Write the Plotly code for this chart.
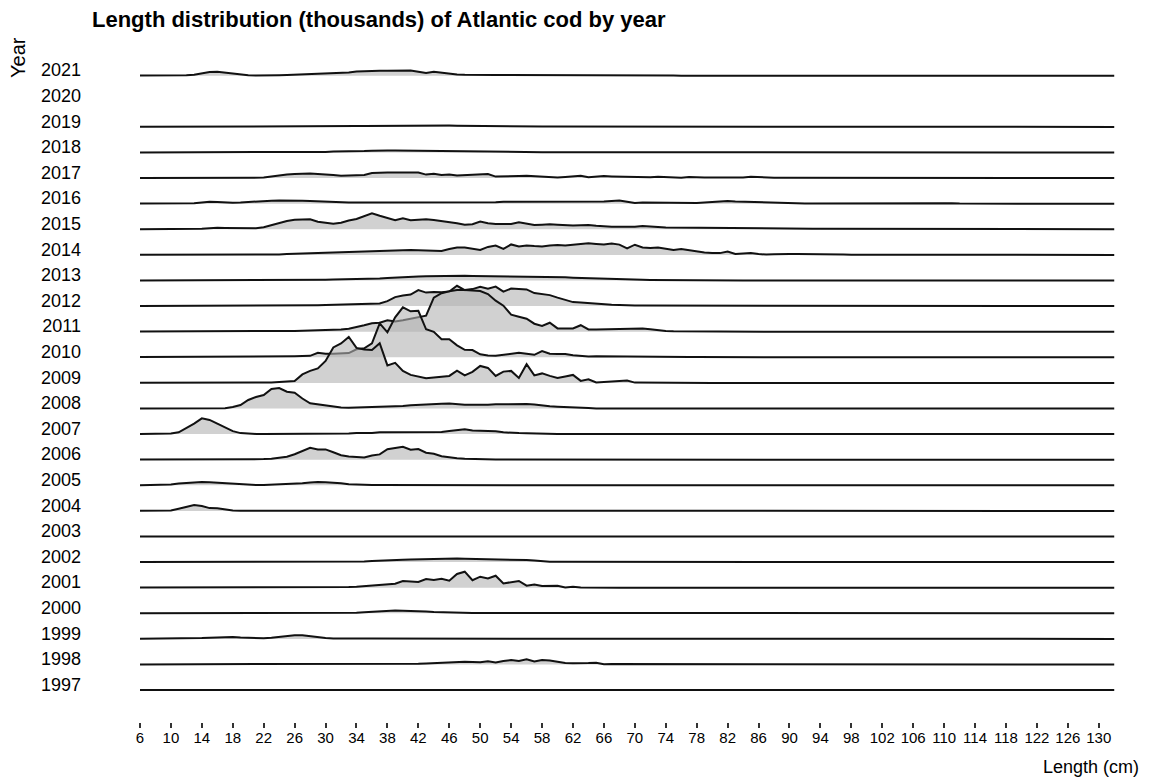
import plotly.graph_objects as go

# Length classes (cm) and survey years
lengths = list(range(6, 133))          # 6 ... 132 cm, 127 classes
years = list(range(1997, 2022))
x_tick_vals = list(range(6, 131, 4))

Z = 0
# Catch at length (thousands) per year, one value per 1-cm class from 6 to 132 cm
len_2021 = [0.1, 0.1, 0.1, 0.1, 0.1, 0.1, 0.4, 0.9, 2.3, 3.6,
            4.0, 3.2, 2.0, 0.9, 0.5, 0.2, 0.1, 0.3, 0.5, 0.7,
            1.0, 1.3, 1.6, 1.9, 2.1, 2.4, 2.7, 3.3, 4.2, 4.7,
            4.8, 5.0, 5.0, 5.0, 5.1, 5.3, 4.0, 2.8, 4.0, 3.2,
            1.8, 1.3, 1.0, 0.8, 0.7, 0.8, 0.8, 0.8, 0.8, 0.8,
            0.8, 0.4, 0.4, 0.4, 0.4, 0.3, 0.3, 0.3, 0.3, 0.3,
            0.3, 0.3, 0.3, 0.3, 0.3, 0.1, 0.1, 0.1, 0.1, 0.1,
            Z, Z, Z, Z, Z, Z, Z, Z, Z, Z,
            Z, Z, Z, Z, Z, Z, Z, Z, Z, Z,
            Z, Z, Z, Z, Z, Z, Z, Z, Z, Z,
            Z, Z, Z, Z, Z, Z, Z, Z, Z, Z,
            Z, Z, Z, Z, Z, Z, Z, Z, Z, Z,
            Z, Z, Z, Z, Z, Z, Z]
len_2020 = None  # no survey
len_2019 = [0.1, 0.1, 0.1, 0.1, 0.1, 0.1, 0.1, 0.1, 0.1, 0.1,
            0.1, 0.1, 0.1, 0.1, 0.1, 0.2, 0.2, 0.2, 0.3, 0.3,
            0.4, 0.4, 0.4, 0.5, 0.5, 0.6, 0.6, 0.7, 0.8, 0.9,
            1.0, 1.0, 1.1, 1.1, 1.2, 1.2, 1.2, 1.2, 1.3, 1.3,
            1.3, 1.2, 1.2, 1.1, 1.0, 1.0, 0.9, 0.8, 0.7, 0.6,
            0.5, 0.5, 0.5, 0.4, 0.4, 0.4, 0.4, 0.3, 0.3, 0.3,
            0.3, 0.3, 0.3, 0.3, 0.3, 0.3, 0.2, 0.2, 0.2, 0.2,
            0.2, 0.2, 0.1, 0.1, 0.1, 0.1, 0.1, 0.1, 0.1, 0.1,
            Z, Z, Z, Z, Z, Z, Z, Z, Z, Z,
            Z, Z, Z, Z, Z, Z, Z, Z, Z, Z,
            Z, Z, Z, Z, Z, Z, Z, Z, Z, Z,
            Z, Z, Z, Z, Z, Z, Z, Z, Z, Z,
            Z, Z, Z, Z, Z, Z, Z]
len_2018 = [0.1, 0.1, 0.1, 0.1, 0.1, 0.1, 0.1, 0.1, 0.1, 0.1,
            0.1, 0.1, 0.1, 0.1, 0.1, 0.3, 0.3, 0.3, 0.3, 0.3,
            0.6, 0.6, 0.6, 0.6, 0.6, 1.0, 1.0, 1.0, 1.3, 1.5,
            1.8, 2.2, 2.0, 1.9, 1.8, 1.8, 1.7, 1.5, 1.3, 1.1,
            1.0, 0.9, 0.8, 0.6, 0.5, 0.3, 0.3, 0.3, 0.3, 0.3,
            0.3, 0.3, 0.3, 0.3, 0.3, 0.3, 0.3, 0.3, 0.3, 0.3,
            0.3, 0.3, 0.3, 0.3, 0.3, 0.6, 0.6, 0.6, 0.6, 0.3,
            0.3, 0.3, 0.3, 0.3, 0.3, 0.1, 0.1, 0.1, 0.1, 0.1,
            Z, Z, Z, Z, Z, Z, Z, Z, Z, Z,
            Z, Z, Z, Z, Z, Z, Z, Z, Z, Z,
            Z, Z, Z, Z, Z, Z, Z, Z, Z, Z,
            Z, Z, Z, Z, Z, Z, Z, Z, Z, Z,
            Z, Z, Z, Z, Z, Z, Z]
len_2017 = [0.1, 0.1, 0.1, 0.1, 0.1, 0.1, 0.1, 0.1, 0.1, 0.1,
            0.1, 0.1, 0.1, 0.1, 0.1, 0.1, 0.5, 1.5, 2.8, 3.6,
            4.2, 4.7, 4.5, 4.0, 3.8, 3.0, 2.3, 2.5, 2.8, 3.2,
            5.0, 5.5, 5.5, 5.6, 5.6, 5.7, 5.6, 3.5, 4.3, 3.2,
            3.5, 2.5, 3.0, 3.8, 4.3, 4.1, 1.5, 1.5, 1.8, 2.0,
            2.3, 1.8, 1.3, 1.0, 0.7, 1.2, 2.0, 2.3, 0.8, 1.7,
            2.0, 1.7, 1.5, 1.3, 0.5, 0.3, 0.8, 1.3, 0.8, 0.3,
            0.3, 1.0, 0.5, 0.5, 0.5, 0.5, 0.5, 0.5, 0.5, 1.3,
            0.8, 0.4, 0.4, 0.4, 0.4, 0.1, 0.1, 0.1, 0.1, 0.1,
            Z, Z, Z, Z, Z, Z, Z, Z, Z, Z,
            Z, Z, Z, Z, Z, Z, Z, Z, Z, Z,
            Z, Z, Z, Z, Z, Z, Z, Z, Z, Z,
            Z, Z, Z, Z, Z, Z, Z]
len_2016 = [0.1, 0.1, 0.1, 0.1, 0.1, 0.1, 0.1, 0.5, 1.2, 2.0,
            1.7, 1.2, 1.0, 1.2, 1.8, 2.3, 2.8, 3.0, 3.2, 3.3,
            3.2, 3.0, 2.6, 2.2, 1.8, 1.5, 1.3, 1.2, 1.2, 1.2,
            1.2, 1.2, 1.2, 1.0, 1.0, 1.0, 1.0, 1.0, 1.0, 1.0,
            1.5, 1.5, 1.5, 1.5, 1.5, 1.5, 1.5, 2.0, 2.0, 1.8,
            1.8, 1.8, 1.8, 1.8, 1.8, 1.8, 1.8, 1.8, 1.8, 1.8,
            2.2, 2.8, 3.3, 2.0, 0.8, 1.3, 1.2, 1.5, 0.8, 0.8,
            0.8, 0.8, 0.8, 1.3, 2.0, 2.5, 2.7, 2.3, 2.0, 2.0,
            1.8, 1.5, 1.3, 1.0, 0.6, 0.3, 0.3, 0.3, 0.3, 0.3,
            0.3, 0.3, 0.3, 0.3, 0.3, 0.3, 0.3, 0.3, 0.3, 0.3,
            1.0, 1.0, 1.0, 1.0, 1.0, 0.5, 0.1, 0.1, 0.1, 0.1,
            Z, Z, Z, Z, Z, Z, Z, Z, Z, Z,
            Z, Z, Z, Z, Z, Z, Z]
len_2015 = [0.1, 0.1, 0.1, 0.1, 0.1, 0.1, 0.1, 0.1, 0.5, 1.0,
            1.6, 1.4, 1.2, 1.0, 1.0, 1.0, 2.0, 4.0, 6.5, 8.3,
            9.5, 10.0, 10.0, 7.5, 6.8, 5.5, 6.5, 8.8, 10.3, 13.0,
            16.0, 13.5, 11.0, 9.0, 11.0, 9.0, 9.5, 10.0, 9.2, 8.3,
            7.5, 6.0, 4.5, 5.0, 7.7, 6.0, 5.2, 5.0, 5.3, 7.0,
            5.5, 4.3, 4.6, 5.0, 4.5, 4.0, 3.7, 4.0, 4.3, 3.5,
            2.7, 2.5, 2.5, 2.2, 2.5, 3.2, 3.0, 2.2, 1.8, 1.7,
            1.7, 1.7, 1.7, 1.7, 1.7, 1.2, 1.2, 1.2, 1.2, 1.2,
            1.2, 1.2, 0.6, 0.6, 0.6, 0.6, 0.6, 0.6, 0.6, 0.6,
            0.6, 0.6, 0.2, 0.2, 0.2, 0.1, 0.1, 0.1, 0.1, 0.1,
            Z, Z, Z, Z, Z, Z, Z, Z, Z, Z,
            Z, Z, Z, Z, Z, Z, Z, Z, Z, Z,
            Z, Z, Z, Z, Z, Z, Z]
len_2014 = [0.1, 0.1, 0.1, 0.1, 0.1, 0.1, 0.1, 0.1, 0.1, 0.1,
            0.1, 0.1, 0.1, 0.1, 0.1, 0.5, 0.5, 0.5, 0.5, 1.0,
            1.2, 1.4, 1.6, 1.8, 2.0, 2.2, 2.5, 2.8, 3.0, 3.3,
            3.7, 4.0, 4.2, 4.5, 4.7, 5.0, 4.8, 4.5, 4.2, 4.0,
            6.0, 7.5, 7.5, 6.0, 5.0, 8.0, 9.3, 6.0, 10.5, 8.5,
            9.3, 8.8, 8.5, 9.5, 10.0, 9.3, 10.0, 11.0, 11.7, 11.0,
            10.3, 11.5, 10.3, 6.5, 10.2, 7.5, 7.0, 7.5, 6.5, 5.0,
            5.8, 4.5, 3.0, 2.3, 2.0, 1.8, 3.3, 1.0, 1.5, 2.0,
            1.0, 0.3, 0.6, 1.0, 1.0, 1.0, 1.0, 1.0, 1.0, 1.0,
            0.7, 0.4, 0.1, 0.1, 0.1, 0.1, 0.1, 0.1, 0.1, 0.1,
            Z, Z, Z, Z, Z, Z, Z, Z, Z, Z,
            Z, Z, Z, Z, Z, Z, Z, Z, Z, Z,
            Z, Z, Z, Z, Z, Z, Z]
len_2013 = [0.1, 0.1, 0.1, 0.1, 0.1, 0.1, 0.1, 0.1, 0.1, 0.1,
            0.1, 0.1, 0.1, 0.1, 0.1, 0.2, 0.2, 0.2, 0.3, 0.3,
            0.4, 0.5, 0.6, 0.7, 0.8, 0.9, 1.0, 1.2, 1.3, 1.5,
            1.8, 2.1, 2.5, 3.0, 3.5, 3.8, 4.0, 4.2, 4.4, 4.5,
            4.5, 4.6, 4.7, 4.6, 4.5, 4.5, 4.5, 4.5, 4.5, 4.5,
            4.4, 4.2, 4.0, 3.8, 3.5, 3.2, 2.8, 2.5, 2.2, 2.0,
            1.8, 1.5, 1.3, 1.0, 0.8, 0.7, 0.6, 0.5, 0.4, 0.3,
            0.3, 0.3, 0.2, 0.2, 0.2, 0.1, 0.1, 0.1, 0.1, 0.1,
            Z, Z, Z, Z, Z, Z, Z, Z, Z, Z,
            Z, Z, Z, Z, Z, Z, Z, Z, Z, Z,
            Z, Z, Z, Z, Z, Z, Z, Z, Z, Z,
            Z, Z, Z, Z, Z, Z, Z, Z, Z, Z,
            Z, Z, Z, Z, Z, Z, Z]
len_2012 = [0.1, 0.1, 0.1, 0.1, 0.1, 0.1, 0.1, 0.1, 0.1, 0.1,
            0.1, 0.1, 0.1, 0.1, 0.1, 0.3, 0.3, 0.3, 0.3, 0.5,
            0.5, 0.6, 0.7, 0.8, 1.0, 1.2, 1.4, 1.6, 1.8, 2.2,
            2.5, 2.7, 5.0, 9.0, 10.7, 11.5, 16.0, 13.5, 14.0, 13.8,
            14.5, 20.3, 16.0, 17.0, 19.3, 17.5, 19.5, 14.5, 17.5, 17.0,
            16.7, 13.0, 12.0, 11.0, 8.5, 6.0, 4.0, 3.5, 2.8, 2.3,
            1.8, 1.3, 1.0, 0.6, 0.6, 0.6, 0.6, 0.2, 0.2, 0.2,
            0.1, 0.1, 0.1, 0.1, 0.1, 0.1, 0.1, 0.1, 0.1, 0.1,
            Z, Z, Z, Z, Z, Z, Z, Z, Z, Z,
            Z, Z, Z, Z, Z, Z, Z, Z, Z, Z,
            Z, Z, Z, Z, Z, Z, Z, Z, Z, Z,
            Z, Z, Z, Z, Z, Z, Z, Z, Z, Z,
            Z, Z, Z, Z, Z, Z, Z]
len_2011 = [0.2, 0.2, 0.2, 0.2, 0.2, 0.2, 0.2, 0.2, 0.2, 0.2,
            0.2, 0.2, 0.2, 0.2, 0.2, 0.5, 0.5, 0.5, 0.5, 0.7,
            0.8, 1.0, 1.2, 1.4, 1.6, 2.0, 2.2, 3.0, 4.5, 6.5,
            8.5, 9.0, 11.5, 10.2, 11.5, 13.0, 14.5, 16.0, 34.0, 38.5,
            40.5, 41.7, 41.7, 41.0, 40.7, 37.7, 31.0, 26.0, 17.0, 15.0,
            13.0, 8.0, 5.7, 9.0, 3.3, 3.3, 3.3, 6.5, 2.3, 2.3,
            2.5, 2.6, 2.8, 3.0, 3.2, 3.3, 2.5, 1.5, 0.8, 0.5,
            0.4, 0.3, 0.3, 0.2, 0.2, 0.1, 0.1, 0.1, 0.1, 0.1,
            Z, Z, Z, Z, Z, Z, Z, Z, Z, Z,
            Z, Z, Z, Z, Z, Z, Z, Z, Z, Z,
            Z, Z, Z, Z, Z, Z, Z, Z, Z, Z,
            Z, Z, Z, Z, Z, Z, Z, Z, Z, Z,
            Z, Z, Z, Z, Z, Z, Z]
len_2010 = [0.3, 0.3, 0.3, 0.3, 0.3, 0.3, 0.3, 0.3, 0.3, 0.3,
            0.3, 0.3, 0.3, 0.3, 0.3, 0.4, 0.5, 0.8, 0.8, 0.9,
            1.0, 1.2, 1.5, 4.5, 3.5, 3.5, 3.8, 4.2, 8.0, 9.0,
            14.0, 34.0, 25.0, 40.0, 50.0, 46.0, 46.5, 28.0, 25.5, 18.0,
            18.0, 12.0, 7.5, 7.3, 3.0, 1.8, 1.5, 2.5, 3.5, 4.5,
            3.5, 2.5, 6.3, 3.5, 3.3, 3.3, 2.0, 1.2, 0.8, 1.0,
            1.0, 1.0, 1.0, 1.0, 1.0, 1.0, 1.0, 1.0, 1.0, 0.5,
            0.3, 0.3, 0.2, 0.2, 0.1, 0.1, 0.1, 0.1, 0.1, 0.1,
            Z, Z, Z, Z, Z, Z, Z, Z, Z, Z,
            Z, Z, Z, Z, Z, Z, Z, Z, Z, Z,
            Z, Z, Z, Z, Z, Z, Z, Z, Z, Z,
            Z, Z, Z, Z, Z, Z, Z, Z, Z, Z,
            Z, Z, Z, Z, Z, Z, Z]
len_2009 = [0.2, 0.2, 0.2, 0.2, 0.2, 0.2, 0.2, 0.2, 0.2, 0.2,
            0.2, 0.2, 0.2, 0.2, 0.2, 0.2, 0.2, 0.5, 1.0, 1.3,
            1.8, 8.5, 12.0, 14.5, 22.0, 35.5, 39.5, 46.0, 35.0, 33.5,
            33.0, 39.7, 17.5, 20.0, 12.0, 8.0, 6.0, 4.7, 5.5, 6.4,
            7.0, 12.3, 7.5, 11.0, 17.0, 15.0, 7.0, 11.3, 12.0, 5.0,
            18.7, 7.5, 9.5, 7.0, 5.0, 6.5, 8.0, 2.0, 3.7, 0.5,
            0.8, 1.2, 1.8, 2.3, 0.3, 0.2, 0.2, 0.1, 0.1, 0.1,
            Z, Z, Z, Z, Z, Z, Z, Z, Z, Z,
            Z, Z, Z, Z, Z, Z, Z, Z, Z, Z,
            Z, Z, Z, Z, Z, Z, Z, Z, Z, Z,
            Z, Z, Z, Z, Z, Z, Z, Z, Z, Z,
            Z, Z, Z, Z, Z, Z, Z, Z, Z, Z,
            Z, Z, Z, Z, Z, Z, Z]
len_2008 = [0.1, 0.1, 0.1, 0.1, 0.1, 0.1, 0.1, 0.1, 0.1, 0.1,
            0.1, 0.3, 1.5, 3.5, 8.5, 11.5, 13.5, 19.5, 20.5, 16.8,
            15.8, 10.0, 5.2, 4.0, 3.2, 1.8, 1.0, 0.8, 1.0, 1.2,
            1.4, 1.5, 1.7, 2.0, 2.5, 3.3, 3.8, 4.2, 4.5, 4.8,
            5.0, 4.2, 3.8, 3.8, 3.5, 3.8, 4.2, 4.3, 4.5, 4.6,
            4.5, 4.0, 3.0, 2.3, 1.8, 1.3, 1.0, 0.7, 0.4, 0.1,
            0.1, 0.1, 0.1, 0.1, 0.1, 0.1, 0.1, 0.1, 0.1, 0.1,
            Z, Z, Z, Z, Z, Z, Z, Z, Z, Z,
            Z, Z, Z, Z, Z, Z, Z, Z, Z, Z,
            Z, Z, Z, Z, Z, Z, Z, Z, Z, Z,
            Z, Z, Z, Z, Z, Z, Z, Z, Z, Z,
            Z, Z, Z, Z, Z, Z, Z, Z, Z, Z,
            Z, Z, Z, Z, Z, Z, Z]
len_2007 = [0.1, 0.1, 0.1, 0.1, 0.5, 1.8, 6.0, 10.5, 15.8, 14.2,
            10.5, 7.0, 3.0, 1.0, 0.3, 0.2, 0.2, 0.2, 0.2, 0.2,
            0.2, 0.2, 0.2, 0.5, 0.5, 0.5, 0.5, 0.5, 1.0, 1.0,
            1.0, 1.8, 1.8, 1.8, 1.8, 1.8, 2.0, 2.2, 2.4, 2.0,
            3.0, 3.8, 4.8, 3.5, 3.5, 3.4, 2.8, 1.8, 1.2, 1.0,
            0.8, 0.5, 0.1, 0.1, 0.1, 0.1, 0.1, 0.1, 0.1, 0.1,
            Z, Z, Z, Z, Z, Z, Z, Z, Z, Z,
            Z, Z, Z, Z, Z, Z, Z, Z, Z, Z,
            Z, Z, Z, Z, Z, Z, Z, Z, Z, Z,
            Z, Z, Z, Z, Z, Z, Z, Z, Z, Z,
            Z, Z, Z, Z, Z, Z, Z, Z, Z, Z,
            Z, Z, Z, Z, Z, Z, Z, Z, Z, Z,
            Z, Z, Z, Z, Z, Z, Z]
len_2006 = [0.1, 0.1, 0.1, 0.1, 0.1, 0.1, 0.1, 0.1, 0.1, 0.1,
            0.1, 0.1, 0.1, 0.1, 0.1, 0.3, 0.6, 1.0, 1.8, 3.0,
            5.5, 8.5, 12.0, 10.3, 10.3, 7.5, 4.5, 3.2, 2.5, 2.2,
            4.3, 5.3, 10.5, 12.0, 13.0, 10.0, 10.7, 7.0, 6.0, 3.5,
            2.2, 1.5, 1.0, 0.6, 0.3, 0.1, 0.1, 0.1, 0.1, 0.1,
            Z, Z, Z, Z, Z, Z, Z, Z, Z, Z,
            Z, Z, Z, Z, Z, Z, Z, Z, Z, Z,
            Z, Z, Z, Z, Z, Z, Z, Z, Z, Z,
            Z, Z, Z, Z, Z, Z, Z, Z, Z, Z,
            Z, Z, Z, Z, Z, Z, Z, Z, Z, Z,
            Z, Z, Z, Z, Z, Z, Z, Z, Z, Z,
            Z, Z, Z, Z, Z, Z, Z, Z, Z, Z,
            Z, Z, Z, Z, Z, Z, Z]
len_2005 = [0.1, 0.1, 0.1, 0.1, 0.8, 1.8, 2.5, 3.0, 3.2, 3.0,
            2.5, 1.8, 1.0, 0.5, 0.2, 0.2, 0.3, 0.5, 0.8, 1.0,
            1.3, 2.0, 2.8, 3.3, 3.0, 2.7, 2.0, 1.0, 0.5, 0.3,
            0.2, 0.2, 0.2, 0.2, 0.2, 0.2, 0.2, 0.2, 0.2, 0.2,
            0.2, 0.2, 0.2, 0.2, 0.2, 0.2, 0.2, 0.2, 0.2, 0.2,
            0.2, 0.2, 0.2, 0.2, 0.2, 0.1, 0.1, 0.1, 0.1, 0.1,
            Z, Z, Z, Z, Z, Z, Z, Z, Z, Z,
            Z, Z, Z, Z, Z, Z, Z, Z, Z, Z,
            Z, Z, Z, Z, Z, Z, Z, Z, Z, Z,
            Z, Z, Z, Z, Z, Z, Z, Z, Z, Z,
            Z, Z, Z, Z, Z, Z, Z, Z, Z, Z,
            Z, Z, Z, Z, Z, Z, Z, Z, Z, Z,
            Z, Z, Z, Z, Z, Z, Z]
len_2004 = [0.1, 0.1, 0.1, 0.1, 0.4, 2.2, 4.2, 5.9, 4.8, 2.8,
            2.6, 1.2, 0.4, 0.2, 0.2, 0.2, 0.2, 0.2, 0.2, 0.2,
            0.2, 0.2, 0.2, 0.2, 0.2, 0.6, 0.6, 0.6, 0.6, 0.6,
            0.6, 0.6, 0.6, 0.6, 0.6, 0.6, 0.6, 0.6, 0.6, 0.6,
            0.3, 0.3, 0.3, 0.3, 0.3, 0.3, 0.3, 0.3, 0.3, 0.3,
            0.1, 0.1, 0.1, 0.1, 0.1, 0.1, 0.1, 0.1, 0.1, 0.1,
            Z, Z, Z, Z, Z, Z, Z, Z, Z, Z,
            Z, Z, Z, Z, Z, Z, Z, Z, Z, Z,
            Z, Z, Z, Z, Z, Z, Z, Z, Z, Z,
            Z, Z, Z, Z, Z, Z, Z, Z, Z, Z,
            Z, Z, Z, Z, Z, Z, Z, Z, Z, Z,
            Z, Z, Z, Z, Z, Z, Z, Z, Z, Z,
            Z, Z, Z, Z, Z, Z, Z]
len_2003 = [0.1, 0.1, 0.1, 0.1, 0.1, 0.1, 0.1, 0.1, 0.1, 0.1,
            0.1, 0.1, 0.1, 0.1, 0.1, 0.1, 0.1, 0.1, 0.1, 0.1,
            0.1, 0.1, 0.1, 0.1, 0.1, 0.1, 0.1, 0.1, 0.1, 0.1,
            0.1, 0.1, 0.1, 0.1, 0.3, 0.3, 0.3, 0.3, 0.3, 0.3,
            0.3, 0.3, 0.3, 0.3, 0.3, 0.3, 0.3, 0.3, 0.3, 0.3,
            0.3, 0.3, 0.3, 0.3, 0.6, 0.6, 0.6, 0.6, 0.6, 0.6,
            0.6, 0.6, 0.6, 0.6, 0.3, 0.3, 0.3, 0.3, 0.3, 0.3,
            0.3, 0.3, 0.3, 0.3, 0.1, 0.1, 0.1, 0.1, 0.1, 0.1,
            Z, Z, Z, Z, Z, Z, Z, Z, Z, Z,
            Z, Z, Z, Z, Z, Z, Z, Z, Z, Z,
            Z, Z, Z, Z, Z, Z, Z, Z, Z, Z,
            Z, Z, Z, Z, Z, Z, Z, Z, Z, Z,
            Z, Z, Z, Z, Z, Z, Z]
len_2002 = [0.1, 0.1, 0.1, 0.1, 0.1, 0.1, 0.1, 0.1, 0.1, 0.1,
            0.1, 0.1, 0.1, 0.1, 0.1, 0.3, 0.3, 0.3, 0.3, 0.3,
            0.3, 0.3, 0.3, 0.3, 0.3, 0.6, 0.6, 0.6, 0.6, 0.6,
            1.0, 1.5, 1.8, 2.1, 2.3, 2.5, 2.7, 2.8, 3.2, 3.6,
            3.8, 3.6, 3.3, 3.2, 3.0, 2.9, 2.8, 2.7, 2.5, 2.3,
            2.1, 1.5, 0.8, 0.4, 0.3, 0.3, 0.3, 0.3, 0.3, 0.3,
            0.3, 0.3, 0.3, 0.3, 0.3, 0.1, 0.1, 0.1, 0.1, 0.1,
            Z, Z, Z, Z, Z, Z, Z, Z, Z, Z,
            Z, Z, Z, Z, Z, Z, Z, Z, Z, Z,
            Z, Z, Z, Z, Z, Z, Z, Z, Z, Z,
            Z, Z, Z, Z, Z, Z, Z, Z, Z, Z,
            Z, Z, Z, Z, Z, Z, Z, Z, Z, Z,
            Z, Z, Z, Z, Z, Z, Z]
len_2001 = [0.1, 0.1, 0.1, 0.1, 0.1, 0.1, 0.1, 0.1, 0.1, 0.1,
            0.1, 0.1, 0.1, 0.1, 0.1, 0.1, 0.1, 0.1, 0.1, 0.1,
            0.1, 0.1, 0.1, 0.1, 0.1, 0.2, 0.4, 0.7, 1.0, 1.6,
            2.2, 2.5, 3.2, 4.0, 6.7, 6.0, 5.8, 8.7, 7.8, 9.0,
            7.0, 13.7, 16.0, 7.5, 11.0, 9.3, 12.0, 4.3, 5.5, 6.7,
            2.0, 3.3, 1.7, 1.8, 2.0, 0.2, 1.0, 0.3, 0.1, 0.1,
            Z, Z, Z, Z, Z, Z, Z, Z, Z, Z,
            Z, Z, Z, Z, Z, Z, Z, Z, Z, Z,
            Z, Z, Z, Z, Z, Z, Z, Z, Z, Z,
            Z, Z, Z, Z, Z, Z, Z, Z, Z, Z,
            Z, Z, Z, Z, Z, Z, Z, Z, Z, Z,
            Z, Z, Z, Z, Z, Z, Z, Z, Z, Z,
            Z, Z, Z, Z, Z, Z, Z]
len_2000 = [0.1, 0.1, 0.1, 0.1, 0.1, 0.1, 0.1, 0.1, 0.1, 0.1,
            0.1, 0.1, 0.1, 0.1, 0.1, 0.3, 0.3, 0.3, 0.3, 0.3,
            0.3, 0.3, 0.3, 0.3, 0.3, 0.6, 0.6, 0.6, 0.6, 1.0,
            1.5, 2.0, 2.5, 2.7, 2.6, 2.5, 2.3, 1.8, 1.3, 1.0,
            0.8, 0.4, 0.4, 0.4, 0.4, 0.4, 0.4, 0.4, 0.4, 0.4,
            0.3, 0.3, 0.3, 0.3, 0.3, 0.3, 0.3, 0.3, 0.3, 0.3,
            0.3, 0.3, 0.3, 0.3, 0.3, 0.5, 0.5, 0.5, 0.5, 0.5,
            0.5, 0.5, 0.5, 0.5, 0.5, 0.1, 0.1, 0.1, 0.1, 0.1,
            Z, Z, Z, Z, Z, Z, Z, Z, Z, Z,
            Z, Z, Z, Z, Z, Z, Z, Z, Z, Z,
            Z, Z, Z, Z, Z, Z, Z, Z, Z, Z,
            Z, Z, Z, Z, Z, Z, Z, Z, Z, Z,
            Z, Z, Z, Z, Z, Z, Z]
len_1999 = [0.1, 0.1, 0.1, 0.1, 0.1, 0.1, 0.1, 0.4, 0.8, 1.2,
            1.7, 2.2, 2.0, 1.5, 1.0, 0.5, 0.6, 1.2, 2.0, 2.9,
            3.7, 3.6, 2.5, 1.4, 0.8, 0.5, 0.3, 0.3, 0.3, 0.3,
            0.3, 0.3, 0.3, 0.3, 0.3, 0.2, 0.2, 0.2, 0.2, 0.2,
            0.2, 0.2, 0.2, 0.2, 0.2, 0.2, 0.2, 0.2, 0.2, 0.2,
            0.1, 0.1, 0.1, 0.1, 0.1, 0.1, 0.1, 0.1, 0.1, 0.1,
            Z, Z, Z, Z, Z, Z, Z, Z, Z, Z,
            Z, Z, Z, Z, Z, Z, Z, Z, Z, Z,
            Z, Z, Z, Z, Z, Z, Z, Z, Z, Z,
            Z, Z, Z, Z, Z, Z, Z, Z, Z, Z,
            Z, Z, Z, Z, Z, Z, Z, Z, Z, Z,
            Z, Z, Z, Z, Z, Z, Z, Z, Z, Z,
            Z, Z, Z, Z, Z, Z, Z]
len_1998 = [0.1, 0.1, 0.1, 0.1, 0.1, 0.1, 0.1, 0.1, 0.1, 0.1,
            0.1, 0.1, 0.1, 0.1, 0.1, 0.1, 0.1, 0.1, 0.1, 0.1,
            0.1, 0.1, 0.1, 0.1, 0.1, 0.3, 0.3, 0.3, 0.3, 0.3,
            0.3, 0.3, 0.3, 0.3, 0.3, 0.5, 0.8, 1.1, 1.5, 2.0,
            2.4, 2.7, 2.8, 2.5, 2.2, 3.2, 2.0, 3.5, 4.5, 3.5,
            5.2, 3.0, 4.5, 4.0, 2.5, 1.5, 1.3, 1.2, 1.5, 1.8,
            0.3, 0.5, 0.5, 0.5, 0.5, 0.5, 0.5, 0.5, 0.5, 0.5,
            0.5, 0.5, 0.5, 0.5, 0.5, 0.1, 0.1, 0.1, 0.1, 0.1,
            Z, Z, Z, Z, Z, Z, Z, Z, Z, Z,
            Z, Z, Z, Z, Z, Z, Z, Z, Z, Z,
            Z, Z, Z, Z, Z, Z, Z, Z, Z, Z,
            Z, Z, Z, Z, Z, Z, Z, Z, Z, Z,
            Z, Z, Z, Z, Z, Z, Z]
len_1997 = [0.1, 0.1, 0.1, 0.1, 0.1, 0.1, 0.1, 0.1, 0.1, 0.1,
            0.1, 0.1, 0.1, 0.1, 0.1, 0.1, 0.1, 0.1, 0.1, 0.1,
            0.1, 0.1, 0.1, 0.1, 0.1, 0.1, 0.1, 0.1, 0.1, 0.1,
            0.3, 0.3, 0.3, 0.3, 0.3, 0.3, 0.3, 0.3, 0.3, 0.3,
            0.4, 0.4, 0.4, 0.4, 0.4, 0.4, 0.4, 0.4, 0.4, 0.4,
            0.5, 0.5, 0.5, 0.5, 0.5, 0.5, 0.5, 0.5, 0.5, 0.5,
            0.7, 0.8, 0.8, 0.6, 0.4, 0.3, 0.2, 0.2, 0.1, 0.1,
            Z, Z, Z, Z, Z, Z, Z, Z, Z, Z,
            Z, Z, Z, Z, Z, Z, Z, Z, Z, Z,
            Z, Z, Z, Z, Z, Z, Z, Z, Z, Z,
            Z, Z, Z, Z, Z, Z, Z, Z, Z, Z,
            Z, Z, Z, Z, Z, Z, Z, Z, Z, Z,
            Z, Z, Z, Z, Z, Z, Z]

series = {
    2021: len_2021, 2020: len_2020, 2019: len_2019, 2018: len_2018,
    2017: len_2017, 2016: len_2016, 2015: len_2015, 2014: len_2014,
    2013: len_2013, 2012: len_2012, 2011: len_2011, 2010: len_2010,
    2009: len_2009, 2008: len_2008, 2007: len_2007, 2006: len_2006,
    2005: len_2005, 2004: len_2004, 2003: len_2003, 2002: len_2002,
    2001: len_2001, 2000: len_2000, 1999: len_1999, 1998: len_1998,
    1997: len_1997,
}
for yr, vals in series.items():
    if vals is not None:
        assert len(vals) == len(lengths), (yr, len(vals))

ROW_THOUSANDS = 25.6   # thousands of fish corresponding to one row spacing
FONT = "Liberation Sans, Arial, Helvetica, sans-serif"
FILL = "rgba(179,179,179,0.6)"

# The page body adds an 8 px margin, so the figure is sized 8 px smaller
W, H = 1161, 774
PL, PR, PT, PB = 132, 1107, 47, 714      # plot-area edges in figure pixels

fig = go.Figure()
for yr in sorted(series, reverse=True):       # top row first, lower rows drawn in front
    vals = series[yr]
    if vals is None:
        continue
    base = yr - years[0]
    top = [base + v / ROW_THOUSANDS for v in vals]
    fig.add_trace(go.Scatter(
        x=lengths + lengths[::-1], y=top + [base] * len(lengths),
        fill="toself", fillcolor=FILL, mode="none",
        hoverinfo="skip", showlegend=False))
    fig.add_trace(go.Scatter(
        x=lengths, y=top, mode="lines",
        line=dict(color="#111111", width=2),
        name=str(yr), showlegend=False))

pw, ph = PR - PL, PB - PT
fig.update_layout(
    width=W, height=H, autosize=False,
    margin=dict(l=PL, r=W - PR, t=PT, b=H - PB, pad=0),
    paper_bgcolor="white", plot_bgcolor="white",
    font=dict(family=FONT, color="black"),
    title=dict(text="<b>Length distribution (thousands) of Atlantic cod by year</b>",
               font=dict(size=22, family=FONT, color="black"),
               xref="container", x=84 / W, xanchor="left",
               yref="container", y=1 - 11 / H, yanchor="middle"),
    xaxis=dict(range=[6, 132.1], tickvals=x_tick_vals,
               ticks="outside", ticklen=5, tickwidth=2, tickcolor="#333333",
               tickfont=dict(size=15, color="black"), ticklabelstandoff=-3,
               showgrid=False, zeroline=False, showline=False),
    yaxis=dict(range=[-1.246, 24.809],
               tickvals=[y - years[0] + 0.22 for y in years],
               ticktext=[str(y) for y in years],
               ticks="", tickfont=dict(size=18, color="black"),
               ticklabelstandoff=58,
               showgrid=False, zeroline=False, showline=False),
    annotations=[
        dict(text="Year", textangle=-90, xref="paper", yref="paper",
             x=(10 - PL) / pw, y=(PB - 50) / ph, xanchor="center", yanchor="middle",
             showarrow=False, font=dict(size=20, family=FONT, color="black")),
        dict(text="Length (cm)", xref="paper", yref="paper",
             x=(1133 - PL) / pw, y=(PB - 759) / ph, xanchor="right", yanchor="middle",
             showarrow=False, font=dict(size=18, family=FONT, color="black")),
    ],
)

fig.write_html("out.html")
